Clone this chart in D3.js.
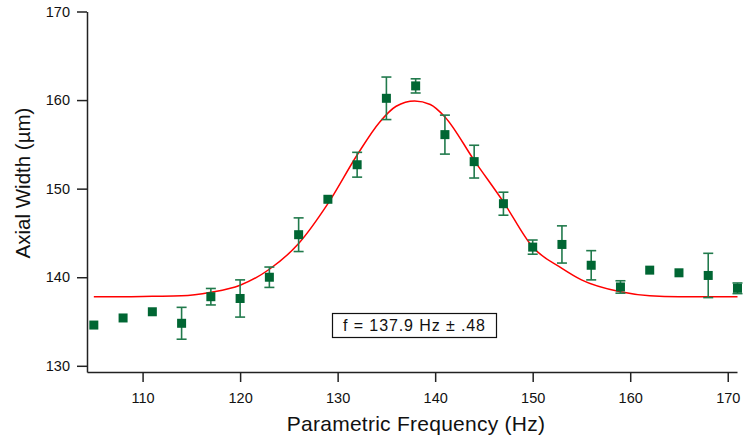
<!DOCTYPE html>
<html>
<head>
<meta charset="utf-8">
<script src="https://cdn.jsdelivr.net/npm/d3@7"></script>
<style>
  body { margin: 0; background: #fff; }
  #chart svg { display: block; }
</style>
</head>
<body>
<div id="chart"></div>
<script>
// measured points
var freq = [105, 108, 111, 114, 117, 120, 123, 126, 129, 132, 135, 138, 141, 144, 147, 150, 153, 156, 159, 162, 165, 168, 171];
var width_um = [134.6, 135.4, 136.1, 134.8, 137.8, 137.6, 140.0, 144.8, 148.8, 152.7, 160.2, 161.6, 156.1, 153.05, 148.3, 143.4, 143.7, 141.35, 138.9, 140.8, 140.5, 140.2, 138.75];
var err = [0, 0, 0, 1.8, 0.93, 2.1, 1.15, 1.9, 0, 1.4, 2.4, 0.8, 2.2, 1.85, 1.3, 0.8, 2.1, 1.65, 0.7, 0, 0, 2.5, 0.6];

// fit curve
var fitFreq = [105, 108, 111, 114, 117, 120, 123, 126, 129, 132, 134.3, 136, 137.9, 139.5, 141, 144, 147, 150, 153, 155, 159, 162, 165, 171];
var fitWidth = [137.8, 137.8, 137.85, 137.9, 138.3, 139.1, 140.9, 143.8, 148.3, 153.8, 157.5, 159.3, 159.9, 159.5, 158.1, 153.2, 148.5, 143.4, 141.0, 139.7, 138.35, 137.9, 137.8, 137.8];

var xTicks = [110, 120, 130, 140, 150, 160, 170];
var yTicks = [130, 140, 150, 160, 170];
var fitLabel = "f = 137.9 Hz \u00b1 .48";

var W = 744, H = 440;
var margin = { top: 11.5, right: 7, bottom: 68, left: 87 };

var svg = d3.select("#chart").append("svg")
    .attr("width", W)
    .attr("height", H)
    .style("font-family", "'Liberation Sans', Arial, sans-serif");

var x = d3.scaleLinear().domain([104.3, 170.95]).range([margin.left, W - margin.right]);
var y = d3.scaleLinear().domain([129.3, 170]).range([H - margin.bottom, margin.top]);

// axes
var xAxis = svg.append("g")
    .attr("transform", "translate(0," + (H - margin.bottom) + ")")
    .call(d3.axisBottom(x).tickValues(xTicks).tickSize(10).tickPadding(11).tickSizeOuter(0));
var yAxis = svg.append("g")
    .attr("transform", "translate(" + margin.left + ",0)")
    .call(d3.axisLeft(y).tickValues(yTicks).tickSize(10).tickPadding(7).tickSizeOuter(0));

[xAxis, yAxis].forEach(function (g) {
    g.selectAll("path, line").attr("stroke", "#222").attr("stroke-width", 1.5);
    g.selectAll("text").attr("fill", "#111").style("font-size", "14.5px").style("font-family", "'Liberation Sans', Arial, sans-serif");
});

// axis titles
svg.append("text")
    .attr("x", (margin.left + W - margin.right) / 2 + 4)
    .attr("y", 431)
    .attr("text-anchor", "middle")
    .style("font-size", "21px")
    .style("letter-spacing", "0.25px")
    .attr("fill", "#111")
    .text("Parametric Frequency (Hz)");

svg.append("text")
    .attr("transform", "translate(30,183) rotate(-90)")
    .attr("text-anchor", "middle")
    .style("font-size", "20.5px")
    .attr("fill", "#111")
    .text("Axial Width (\u00b5m)");

// fit curve
var line = d3.line()
    .x(function (d) { return x(d[0]); })
    .y(function (d) { return y(d[1]); })
    .curve(d3.curveMonotoneX);

svg.append("path")
    .datum(d3.zip(fitFreq, fitWidth))
    .attr("d", line)
    .attr("fill", "none")
    .attr("stroke", "#ff0000")
    .attr("stroke-width", 1.5);

// error bars
var pts = freq.map(function (f, i) { return { f: f, v: width_um[i], e: err[i] }; });
var bars = svg.append("g")
    .attr("stroke", "#217a4c")
    .attr("stroke-width", 1.6)
    .selectAll("g")
    .data(pts.filter(function (d) { return d.e > 0; }))
    .enter().append("g");

bars.append("line")
    .attr("x1", function (d) { return x(d.f); })
    .attr("x2", function (d) { return x(d.f); })
    .attr("y1", function (d) { return y(d.v - d.e); })
    .attr("y2", function (d) { return y(d.v + d.e); });
bars.append("line")
    .attr("x1", function (d) { return x(d.f) - 5; })
    .attr("x2", function (d) { return x(d.f) + 5; })
    .attr("y1", function (d) { return y(d.v + d.e); })
    .attr("y2", function (d) { return y(d.v + d.e); });
bars.append("line")
    .attr("x1", function (d) { return x(d.f) - 5; })
    .attr("x2", function (d) { return x(d.f) + 5; })
    .attr("y1", function (d) { return y(d.v - d.e); })
    .attr("y2", function (d) { return y(d.v - d.e); });

// markers
var s = 9;
svg.append("g")
    .selectAll("rect")
    .data(pts)
    .enter().append("rect")
    .attr("x", function (d) { return x(d.f) - s / 2; })
    .attr("y", function (d) { return y(d.v) - s / 2; })
    .attr("width", s)
    .attr("height", s)
    .attr("fill", "#006633");

// fit annotation box
var box = svg.append("g").attr("transform", "translate(332,313)");
box.append("rect")
    .attr("x", 0.5).attr("y", 0.5)
    .attr("width", 164).attr("height", 24)
    .attr("fill", "#fff")
    .attr("stroke", "#111")
    .attr("stroke-width", 1.2);
box.append("text")
    .attr("x", 82.5)
    .attr("y", 18)
    .attr("text-anchor", "middle")
    .style("font-size", "16px")
    .style("letter-spacing", "0.9px")
    .attr("fill", "#111")
    .text(fitLabel);
</script>
</body>
</html>
